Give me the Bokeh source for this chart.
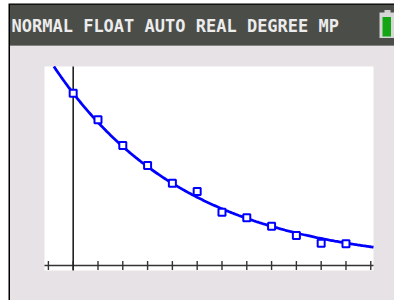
import numpy as np
from bokeh.plotting import figure
from bokeh.models import Range1d, ColumnDataSource
from bokeh.core.properties import value
from bokeh.embed import file_html
from bokeh.resources import INLINE

x_data = [0, 1, 2, 3, 4, 5, 6, 7, 8, 9, 10, 11]
y_data = [100.0, 84.6, 69.6, 58.0, 47.8, 42.9, 30.9, 27.7, 22.8, 17.4, 12.9, 12.6]
status_text = "NORMAL FLOAT AUTO REAL DEGREE MP"
x_window = (-1.157, 12.11)   # Xmin, Xmax
y_window = (-2.9, 115.5)     # Ymin, Ymax
x_scale_step = 1             # Xscl

# exponential regression curve shown on the screen: y = a * b^x
fit_a = 100.0
fit_b = 0.831

# ---- page geometry (pixels) ----
W, H = 394, 300
GX0, GX1, GY0, GY1 = 44, 373, 66, 270   # graph window on the screen
HEADER_BG = "#4b4d49"
SCREEN_BG = "#e6e2e5"

ux = (GX1 - GX0) / (x_window[1] - x_window[0])   # px per x unit
uy = (GY1 - GY0) / (y_window[1] - y_window[0])   # px per y unit
xr = Range1d(x_window[0] - GX0 / ux, x_window[1] + (W - GX1) / ux)
yr = Range1d(y_window[0] - (H - GY1) / uy, y_window[1] + GY0 / uy)

p = figure(width=W, height=H, output_backend="svg", toolbar_location=None,
           x_range=xr, y_range=yr, x_axis_type=None, y_axis_type=None, min_border=0)
p.extra_x_ranges = {"px": Range1d(0, W)}
p.extra_y_ranges = {"px": Range1d(H, 0)}
p.background_fill_color = "white"
p.border_fill_color = "white"
p.outline_line_color = None
p.grid.visible = False

def box(l, r, t, b, c):
    p.quad(left=[l], right=[r], top=[t], bottom=[b], fill_color=c, line_color=None,
           x_range_name="px", y_range_name="px")

# calculator screen frame
box(8, W, 3, H, "black")
box(9.5, W, 4.2, 45, HEADER_BG)
box(9.5, W, 45, 306, SCREEN_BG)
box(GX0, GX1, GY0, GY1, "white")

# status bar
p.text(x=[11], y=[25], text=[status_text], text_font=value("DejaVu Sans Mono"),
       text_font_style="bold", text_font_size="17px", text_color="#ececec",
       text_baseline="alphabetic", text_align="left",
       x_range_name="px", y_range_name="px")
box(384, 390, 9.5, 12.5, "#cfcfcf")
box(379, 393.5, 12, 37.5, "#d6d6d6")
box(382, 390.5, 16.5, 36, "#14a514")

# axes (x axis with Xscl ticks crossing it, y axis without ticks)
tick_len = 4.5 / uy
ticks = np.arange(np.ceil(x_window[0]), np.floor(x_window[1]) + 1, x_scale_step)
p.segment(x0=[x_window[0]], y0=[0], x1=[x_window[1]], y1=[0], line_color="#333333", line_width=1.6)
p.segment(x0=ticks, y0=-tick_len, x1=ticks, y1=tick_len, line_color="#333333", line_width=1.4)
p.segment(x0=[0], y0=[y_window[0]], x1=[0], y1=[y_window[1]], line_color="#222222", line_width=1.6)

# regression curve, clipped to the graph window
x_top = np.log(y_window[1] / fit_a) / np.log(fit_b)
xs = np.linspace(max(x_window[0], x_top), x_window[1], 300)
ys = fit_a * fit_b ** xs
p.line(xs, ys, line_color="#0000ff", line_width=2.8)

src = ColumnDataSource(dict(x=x_data, y=y_data))
p.scatter("x", "y", source=src, marker="square", size=7, fill_color="white",
          line_color="#0000ff", line_width=2)

open("out.html", "w").write(file_html(p, INLINE))
